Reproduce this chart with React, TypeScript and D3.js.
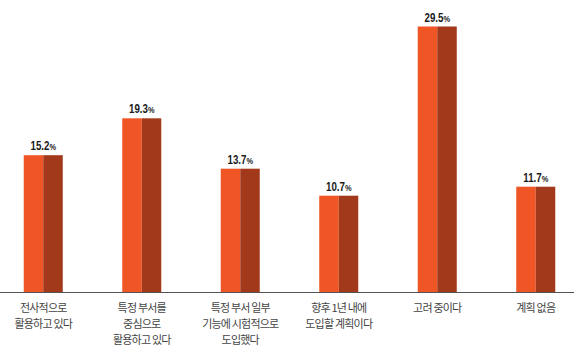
import { useEffect, useRef } from "react";
import * as d3 from "d3";

const categories = [
  ["전사적으로", "활용하고 있다"],
  ["특정 부서를", "중심으로", "활용하고 있다"],
  ["특정 부서 일부", "기능에 시험적으로", "도입했다"],
  ["향후 1년 내에", "도입할 계획이다"],
  ["고려 중이다"],
  ["계획 없음"],
];
const values = [15.2, 19.3, 13.7, 10.7, 29.5, 11.7];

const W = 580;
const H = 362;
const baseY = 292;

export default function App() {
  const svgRef = useRef<SVGSVGElement>(null);

  useEffect(() => {
    const svg = d3.select(svgRef.current);
    svg.selectAll("*").remove();

    const keys = categories.map((_, i) => String(i));
    const x = d3
      .scaleBand()
      .domain(keys)
      .range([-6, 585])
      .paddingInner(0.604)
      .paddingOuter(0.302);
    // 9px per percent point
    const y = d3.scaleLinear().domain([0, 32]).range([baseY, baseY - 288]);

    const bars = svg
      .selectAll("g.bar")
      .data(values)
      .join("g")
      .attr("class", "bar");

    bars
      .append("rect")
      .attr("x", (_, i) => x(keys[i])!)
      .attr("y", (d) => y(d))
      .attr("width", x.bandwidth() / 2)
      .attr("height", (d) => baseY - y(d))
      .attr("fill", "#f05525");
    bars
      .append("rect")
      .attr("x", (_, i) => x(keys[i])! + x.bandwidth() / 2)
      .attr("y", (d) => y(d))
      .attr("width", x.bandwidth() / 2)
      .attr("height", (d) => baseY - y(d))
      .attr("fill", "#a3391b");

    // value labels, squeezed to look condensed
    const lbl = bars
      .append("text")
      .attr(
        "transform",
        (d, i) => `translate(${x(keys[i])! + x.bandwidth() / 2},${y(d) - 5}) scale(0.78,1)`
      )
      .attr("text-anchor", "middle")
      .attr("font-family", "'Liberation Sans', Arial, sans-serif")
      .attr("font-weight", "bold")
      .attr("font-size", 12.5)
      .attr("fill", "#1a1a1a");
    lbl.append("tspan").text((d) => d.toFixed(1));
    lbl.append("tspan").attr("font-size", 9.5).text("%");

    // baseline
    svg
      .append("line")
      .attr("x1", 0)
      .attr("x2", 574)
      .attr("y1", baseY + 0.5)
      .attr("y2", baseY + 0.5)
      .attr("stroke", "#555")
      .attr("stroke-width", 1);

    // category labels
    const cat = svg
      .selectAll("text.cat")
      .data(categories)
      .join("text")
      .attr("class", "cat")
      .attr("text-anchor", "middle")
      .attr("font-family", "'Noto Sans CJK KR', sans-serif")
      .attr("font-size", 11)
      .attr("letter-spacing", -0.8)
      .attr("fill", "#444");
    cat
      .selectAll("tspan")
      .data((d, i) => d.map((t) => ({ t, i })))
      .join("tspan")
      .attr("x", (d) => x(keys[d.i])! + x.bandwidth() / 2)
      .attr("y", (_, j) => 312 + j * 16)
      .text((d) => d.t);
  }, []);

  return (
    <div style={{ position: "fixed", left: 0, top: 0 }}>
      <svg ref={svgRef} width={W} height={H} style={{ display: "block", background: "#fff" }} />
    </div>
  );
}
